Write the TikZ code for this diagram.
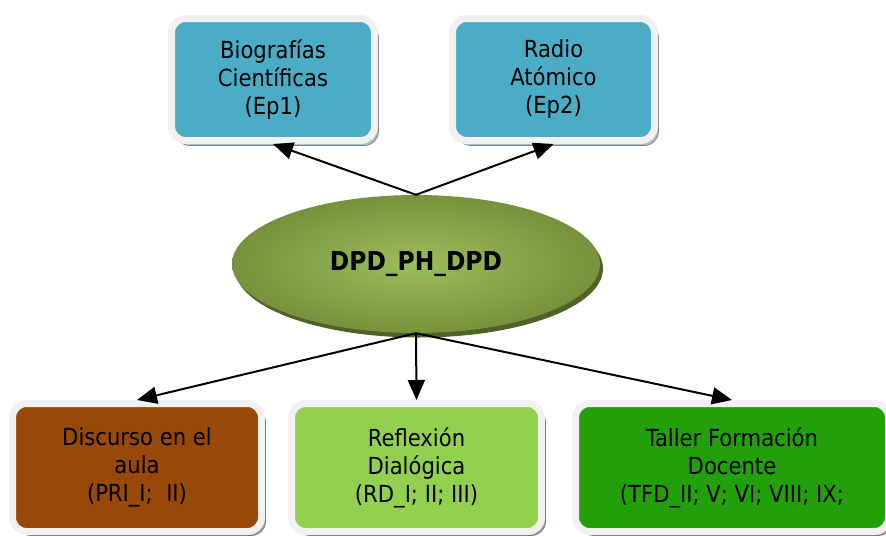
\documentclass[tikz,border=0pt]{standalone}
\usepackage{fontspec}
\setmainfont{DejaVu Sans Condensed}
\usetikzlibrary{shapes.geometric,arrows.meta,shadows}
\definecolor{teal}{HTML}{4BACC6}
\definecolor{brownbox}{HTML}{984807}
\definecolor{lightgreen}{HTML}{92D050}
\definecolor{darkgreen}{HTML}{22A00A}
\definecolor{olivein}{HTML}{9CBE5A}
\definecolor{oliveout}{HTML}{76923C}
\definecolor{oliverim}{HTML}{4F6228}
\definecolor{rimwhite}{HTML}{F1F1F1}
\definecolor{shadowblue}{HTML}{A8BAC4}
\definecolor{shadowred}{HTML}{B89A9A}
\tikzset{
  box/.style={rounded corners=14pt, draw=rimwhite, line width=7pt,
    minimum height=122pt, align=center, text=black,
    font=\fontsize{23.5}{28}\selectfont, inner sep=0pt},
  topbox/.style={box, fill=teal, minimum width=203pt,
    drop shadow={shadow xshift=4pt, shadow yshift=-5pt, opacity=1,
      fill=shadowblue, draw=shadowblue!70!black, line width=0.6pt}},
  lowbox/.style={box, minimum height=128pt,
    drop shadow={shadow xshift=4pt, shadow yshift=-4pt, opacity=1,
      fill=shadowred, draw=shadowred!70!black, line width=0.6pt}},
  link/.style={-{Stealth[length=20pt,width=17pt,inset=0pt]}, line width=2pt, black},
}
\begin{document}
\begin{tikzpicture}[x=1pt,y=-1pt]
  \useasboundingbox (0,0) rectangle (886,536);
  \begin{scope}
  \clip (0,0) rectangle (886,536);

  % upper boxes
  \node[topbox] (bio) at (273,79.5) {Biografías\\Científicas\\(Ep1)};
  \node[topbox, minimum width=202pt] (rad) at (553.5,79.5) {Radio\\Atómico\\(Ep2)};

  % central ellipse with darker rim underneath
  \fill[oliverim] (419,268.5) ellipse [x radius=184, y radius=69];
  \node[ellipse, minimum width=368pt, minimum height=138pt, inner sep=0pt,
        inner color=olivein, outer color=oliveout,
        font=\fontsize{26}{30}\bfseries\selectfont] (dpd) at (416,264) {DPD\_PH\_DPD};

  % lower boxes
  \node[lowbox, fill=brownbox, minimum width=249pt] (dis) at (137,467.5)
    {Discurso en el\\aula\\(PRI\_I;\ \ II)};
  \node[lowbox, fill=lightgreen, minimum width=250pt] (ref) at (416.5,467.5)
    {Reflexión\\Dialógica\\(RD\_I; II; III)};
  \node[lowbox, fill=darkgreen, minimum width=313pt] (tal) at (732,467.5)
    {Taller Formación\\Docente\\(TFD\_II; V; VI; VIII; IX;};

  % connectors
  \draw[link] (dpd.north) -- (bio.south);
  \draw[link] (dpd.north) -- (rad.south);
  \draw[link] (dpd.south) -- (dis.north);
  \draw[link] (dpd.south) -- (ref.north);
  \draw[link] (dpd.south) -- (tal.north);
  \end{scope}
\end{tikzpicture}
\end{document}
